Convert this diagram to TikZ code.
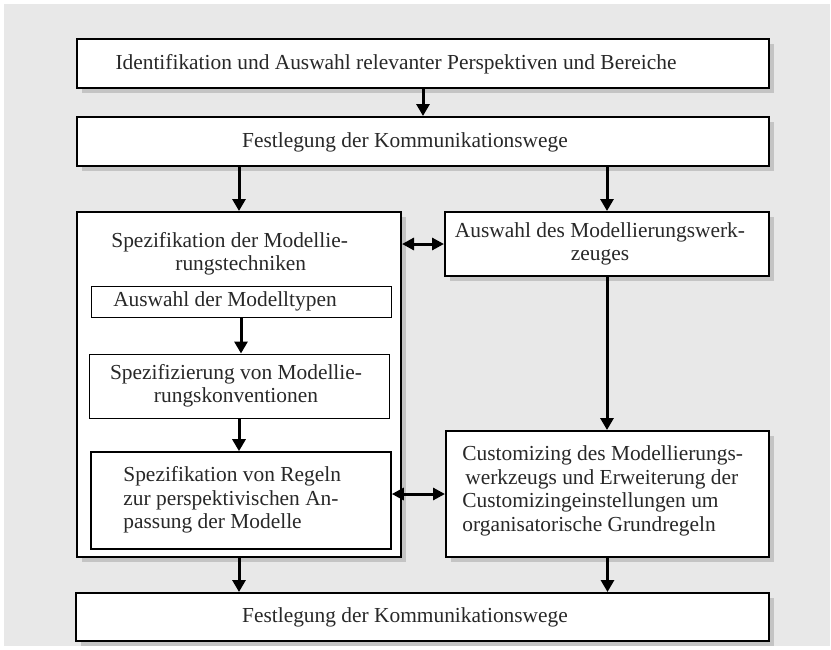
\documentclass[tikz,border=0pt]{standalone}
\usepackage{fontspec}
\setmainfont{Liberation Serif}
\usetikzlibrary{arrows.meta,fit}

\definecolor{panelgray}{RGB}{232,232,232}
\definecolor{shadowgray}{RGB}{196,196,196}
\definecolor{inkgray}{RGB}{40,40,40}

\tikzset{
    outerbox/.style={draw, line width=1pt, fill=white, inner sep=0pt,
        preaction={fill=shadowgray, transform canvas={xshift=2.5pt, yshift=-2.5pt}}},
    innerbox/.style={draw, line width=0.5pt, fill=white, inner sep=0pt},
    boxtext/.style={inner sep=0pt, text=inkgray, font=\fontsize{10.7}{11.75}\selectfont},
    flowarrow/.style={line width=1.5pt, -{Triangle[length=6pt,width=6.5pt]}},
    bothways/.style={line width=1.5pt, {Triangle[length=6pt,width=6pt]}-{Triangle[length=6pt,width=6pt]}}
}

\begin{document}
\begin{tikzpicture}[x=0.5pt, y=-0.5pt]
    % Background
        \useasboundingbox (0,0) rectangle (831,649);
        \fill[panelgray] (4,4) rectangle (830,646);

    % Top boxes
        \node[outerbox, fit={(77,39) (769,88)}] (ident) {};
        \node[boxtext] (identtext) at (396,64) {Identifikation und Auswahl relevanter Perspektiven und Bereiche};
        \node[outerbox, fit={(77,117) (769,166)}] (kommtop) {};
        \node[boxtext] (kommtoptext) at (405,142) {Festlegung der Kommunikationswege};

    % Left column
        \node[outerbox, fit={(77,212) (401,557)}] (technik) {};
        \node[boxtext, anchor=west, align=left] (techniktext) at (111,254)
            {Spezifikation der Modellie-\\\hspace*{32pt}rungstechniken};

        \node[innerbox, fit={(91,286) (391,317)}] (typen) {};
        \node[boxtext] (typentext) at (225,301) {Auswahl der Modelltypen};

        \node[innerbox, fit={(89,354) (389,418)}] (konv) {};
        \node[boxtext, align=center] (konvtext) at (236,386)
            {Spezifizierung von Modellie-\\rungskonventionen};

        \node[innerbox, line width=0.8pt, fit={(91,452) (391,549)}] (regeln) {};
        \node[boxtext, anchor=west, align=left] (regelntext) at (123,500)
            {Spezifikation von Regeln\\zur perspektivischen An-\\passung der Modelle};

    % Right column
        \node[outerbox, fit={(445,212) (769,276)}] (werkzeug) {};
        \node[boxtext, align=center] (werkzeugtext) at (600,244)
            {Auswahl des Modellierungswerk-\\zeuges};

        \node[outerbox, fit={(446,431) (769,557)}] (custom) {};
        \node[boxtext, anchor=west, align=left] (customtext) at (462,491)
            {Customizing des Modellierungs-\\\hspace*{1.5pt}werkzeugs und Erweiterung der\\Customizingeinstellungen um\\organisatorische Grundregeln};

    % Bottom box
        \node[outerbox, fit={(76,593) (769,641)}] (kommbottom) {};
        \node[boxtext] (kommbottomtext) at (405,617) {Festlegung der Kommunikationswege};

    % Arrows
    \draw[flowarrow] (ident) -- (kommtop);
    \draw[flowarrow] (kommtop.south -| technik.north) -- (technik.north);
    \draw[flowarrow] (kommtop.south -| werkzeug.north) -- (werkzeug.north);
    \draw[bothways] (technik.east |- werkzeug.west) -- (werkzeug.west);
    \draw[flowarrow] (typen.south) -- (typen.south |- konv.north);
    \draw[flowarrow] (konv.south) -- (konv.south |- regeln.north);
    \draw[flowarrow] (werkzeug.south) -- (werkzeug.south |- custom.north);
    \draw[bothways] (regeln.east |- custom.west) -- (custom.west);
    \draw[flowarrow] (technik.south) -- (technik.south |- kommbottom.north);
    \draw[flowarrow] (custom.south) -- (custom.south |- kommbottom.north);
\end{tikzpicture}
\end{document}
